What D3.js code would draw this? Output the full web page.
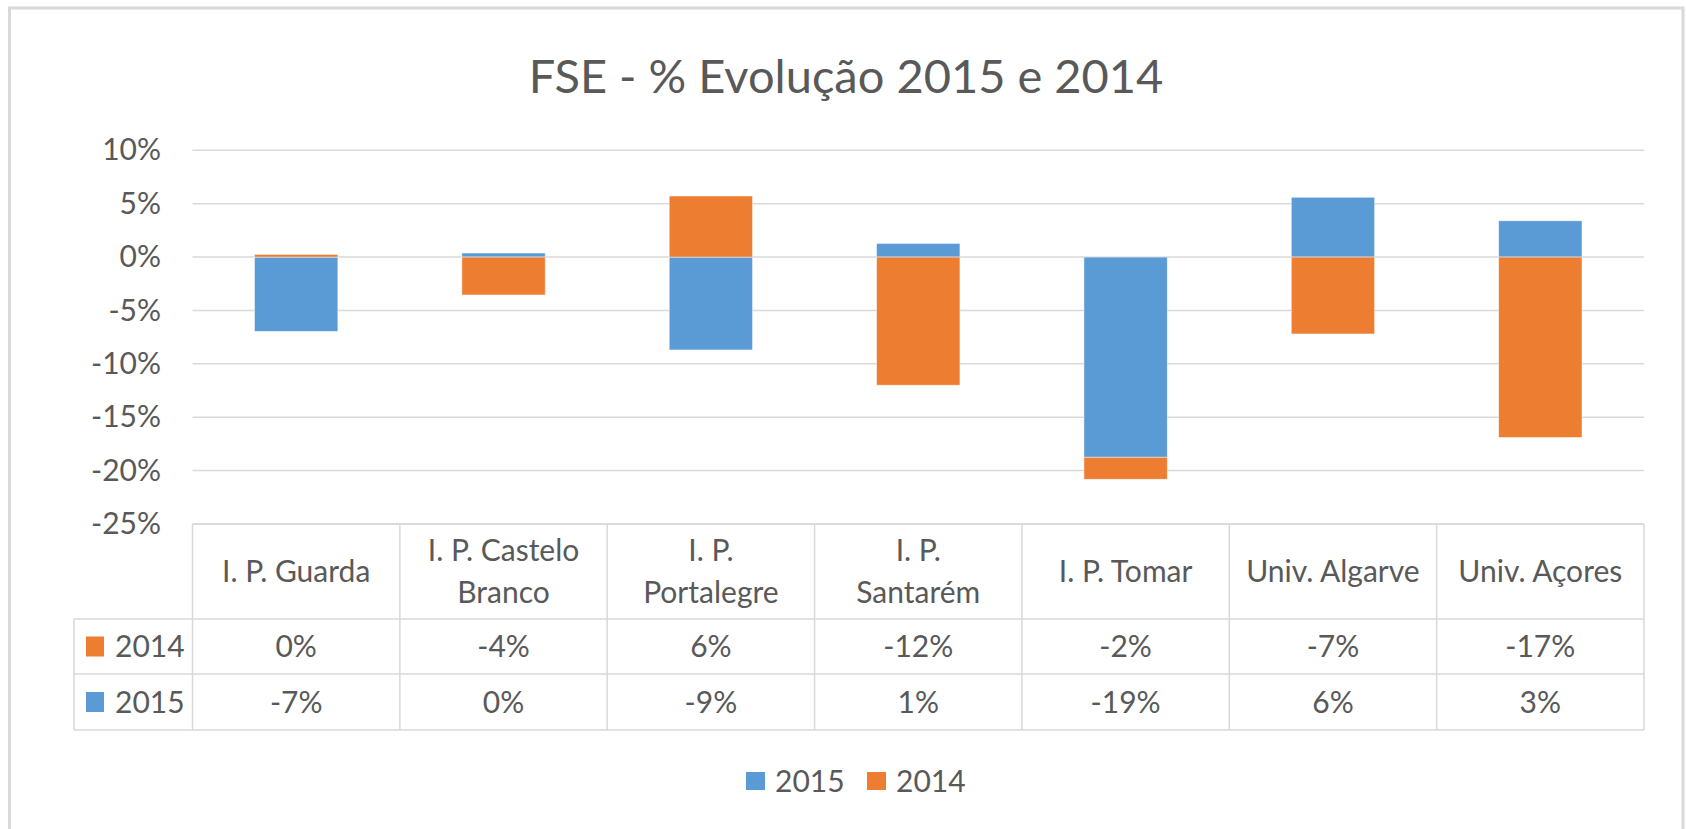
<!DOCTYPE html>
<html><head><meta charset="utf-8">
<script src="https://cdn.jsdelivr.net/npm/d3@7"></script>
<style>body{margin:0;background:#fff}</style>
</head><body>
<svg id="c" width="1686" height="829"></svg>
<script>
const title = "FSE - % Evolução 2015 e 2014";
const categories = ["I. P. Guarda","I. P. Castelo Branco","I. P. Portalegre","I. P. Santarém","I. P. Tomar","Univ. Algarve","Univ. Açores"];
const headerLines = [["I. P. Guarda"],["I. P. Castelo","Branco"],["I. P.","Portalegre"],["I. P.","Santarém"],["I. P. Tomar"],["Univ. Algarve"],["Univ. Açores"]];
const seriesNames = ["2015","2014"];
const values2015 = [-0.0696, 0.0038, -0.087, 0.0128, -0.1875, 0.056, 0.034];
const values2014 = [0.0025, -0.0355, 0.0572, -0.12, -0.0206, -0.072, -0.169];
const yTicks = [0.10, 0.05, 0, -0.05, -0.10, -0.15, -0.20, -0.25];

const colors = {"2015":"#5b9bd5","2014":"#ed7d31"};
const textColor = "#595959";
const gridColor = "#d9d9d9";
const font = "Lato, 'Open Sans', sans-serif";
const pct = v => d3.format(".0%")(v).replace("\u2212","-");

const svg = d3.select("#c");
svg.attr("font-family", font);

// chart frame
svg.append("rect").attr("x",9.5).attr("y",8).attr("width",1673.5).attr("height",840)
  .attr("fill","#fff").attr("stroke",gridColor).attr("stroke-width",3);

const x = d3.scaleBand().domain(categories).range([192.5,1644]).paddingInner(0.598).paddingOuter(0.299);
const xt = d3.scaleBand().domain(categories).range([192.5,1644]);
const y = d3.scaleLinear().domain([-0.25,0.10]).range([524,150.3]);

// title
svg.append("text").attr("x",846).attr("y",93).attr("text-anchor","middle")
  .attr("font-size",47).attr("fill",textColor).text(title);

// gridlines
svg.append("g").selectAll("line").data(yTicks).join("line")
  .attr("x1",192.5).attr("x2",1644).attr("y1",d=>y(d)).attr("y2",d=>y(d))
  .attr("stroke",gridColor).attr("stroke-width",1.5);

// y axis labels
const yAxis = d3.axisLeft(y).tickValues(yTicks).tickFormat(pct).tickSize(0).tickPadding(0);
const gy = svg.append("g").attr("transform","translate(161,0)").call(yAxis);
gy.select(".domain").remove();
gy.selectAll("text").attr("font-size",30).attr("fill",textColor).attr("font-family",font);

// stacked data
const rows = categories.map((c,i)=>({cat:c, "2015":values2015[i], "2014":values2014[i]}));
const stack = d3.stack().keys(seriesNames).offset(d3.stackOffsetDiverging)(rows);

svg.append("g").selectAll("g").data(stack).join("g")
  .attr("fill",d=>colors[d.key])
  .selectAll("rect").data(d=>d).join("rect")
  .attr("x",d=>x(d.data.cat)).attr("width",x.bandwidth())
  .attr("y",d=>y(Math.max(d[0],d[1]))).attr("height",d=>Math.abs(y(d[0])-y(d[1])))
  .attr("stroke","#fff").attr("stroke-width",0.8).attr("stroke-opacity",0.6);

// data table
const tTop = 524, tHead = 619, tRow1 = 674, tBot = 730, tLeft = 74, tRight = 1644;
const tg = svg.append("g").attr("stroke",gridColor).attr("stroke-width",1.5);
[[192.5,tTop,tRight,tTop],[tLeft,tHead,tRight,tHead],[tLeft,tRow1,tRight,tRow1],[tLeft,tBot,tRight,tBot],[tLeft,tHead,tLeft,tBot]]
  .forEach(l=>tg.append("line").attr("x1",l[0]).attr("y1",l[1]).attr("x2",l[2]).attr("y2",l[3]));
tg.selectAll(".v").data(categories).join("line")
  .attr("x1",d=>xt(d)).attr("x2",d=>xt(d)).attr("y1",tTop).attr("y2",tBot);
tg.append("line").attr("x1",tRight).attr("x2",tRight).attr("y1",tTop).attr("y2",tBot);

// header text
const hg = svg.append("g").attr("font-size",30).attr("fill",textColor).attr("text-anchor","middle");
categories.forEach((c,i)=>{
  const lines = headerLines[i];
  const cx = xt(c)+xt.bandwidth()/2;
  const mid = (tTop+tHead)/2;
  lines.forEach((ln,j)=>{
    hg.append("text").attr("x",cx).attr("y",mid + (j-(lines.length-1)/2)*42)
      .attr("dy","0.35em").text(ln);
  });
});

// table rows: 2014 then 2015
const tableRows = [{key:"2014", vals:values2014, yc:(tHead+tRow1)/2},{key:"2015", vals:values2015, yc:(tRow1+tBot)/2}];
tableRows.forEach(r=>{
  svg.append("rect").attr("x",86).attr("y",r.yc-10).attr("width",18).attr("height",20).attr("fill",colors[r.key]);
  svg.append("text").attr("x",115).attr("y",r.yc).attr("dy","0.35em").attr("font-size",30)
    .attr("fill",textColor).text(r.key);
  svg.append("g").selectAll("text").data(r.vals).join("text")
    .attr("x",(d,i)=>xt(categories[i])+xt.bandwidth()/2).attr("y",r.yc).attr("dy","0.35em")
    .attr("text-anchor","middle").attr("font-size",30).attr("fill",textColor).text(d=>pct(d));
});

// legend
const lg = svg.append("g");
const legendItems = [{key:"2015",x:746},{key:"2014",x:867}];
legendItems.forEach(it=>{
  lg.append("rect").attr("x",it.x).attr("y",772).attr("width",19).attr("height",18).attr("fill",colors[it.key]);
  lg.append("text").attr("x",it.x+29).attr("y",781).attr("dy","0.35em").attr("font-size",30)
    .attr("fill",textColor).text(it.key);
});
</script>
</body></html>
